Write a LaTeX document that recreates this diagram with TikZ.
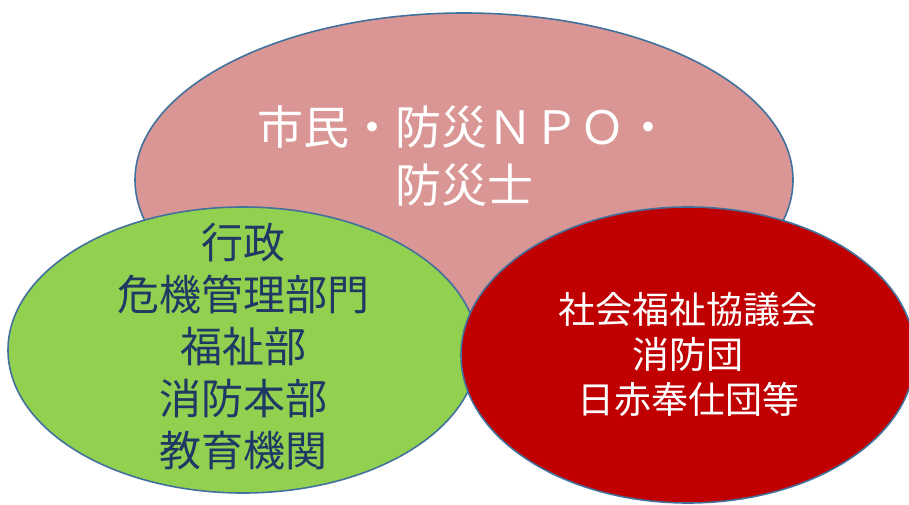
\documentclass[tikz,border=0pt]{standalone}
\usepackage{fontspec}
\usepackage{xcolor}
\usetikzlibrary{shapes.geometric}
\newfontfamily\jpfont{Noto Sans CJK JP}
\definecolor{rimblue}{HTML}{41719C}
\definecolor{rosefill}{HTML}{D99694}
\definecolor{leaffill}{HTML}{92D050}
\definecolor{crimsonfill}{HTML}{C00000}
\definecolor{navytext}{HTML}{1F3864}

\begin{document}
\begin{tikzpicture}[x=1pt, y=-1pt,
  every node/.style = {align=center, inner sep=0pt},
  bubble/.style = {shape=ellipse, draw=rimblue, line width=1.6pt}]
  \useasboundingbox (0,0) rectangle (909,505);
  % the three circles
  \node[bubble, fill=rosefill, minimum width=658pt, minimum height=334pt]
    (citizens) at (464,180) {};
  \node[bubble, fill=leaffill, minimum width=470pt, minimum height=286pt]
    (govt) at (243,350) {};
  \node[bubble, fill=crimsonfill, minimum width=454pt, minimum height=296pt]
    (welfare) at (688,355) {};
  % their texts
  \node[text=white, font=\jpfont\fontsize{46}{58}\selectfont, yshift=24pt]
    (citizenstext) at (citizens.center) {市民・防災ＮＰＯ・\\防災士};
  \node[text=navytext, font=\jpfont\fontsize{42}{52}\selectfont, yshift=3pt]
    (govttext) at (govt.center) {行政\\危機管理部門\\福祉部\\消防本部\\教育機関};
  \node[text=white, font=\jpfont\fontsize{37}{45}\selectfont]
    (welfaretext) at (welfare.center) {社会福祉協議会\\消防団\\日赤奉仕団等};
\end{tikzpicture}
\end{document}
